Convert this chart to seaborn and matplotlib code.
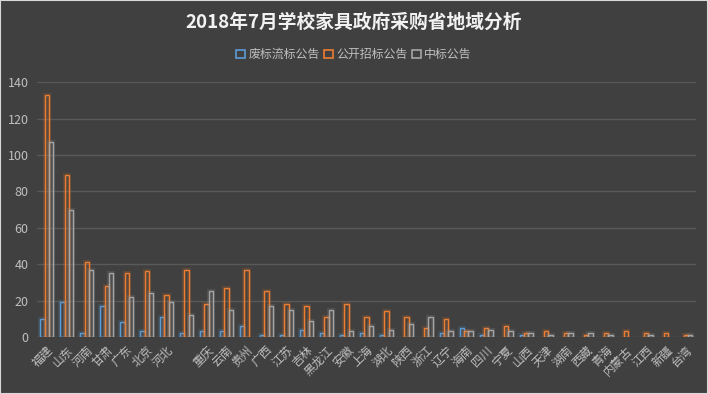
import numpy as np
import pandas as pd
import matplotlib
matplotlib.use("Agg")
import matplotlib.pyplot as plt
import matplotlib.patheffects as pe
from matplotlib.patches import Patch
import seaborn as sns

# 省份 (第8组在原图中没有标签)
provinces = ['福建', '山东', '河南', '甘肃', '广东', '北京', '河北', '', '重庆', '云南',
             '贵州', '广西', '江苏', '吉林', '黑龙江', '安徽', '上海', '湖北', '陕西', '浙江',
             '辽宁', '海南', '四川', '宁夏', '山西', '天津', '湖南', '西藏', '青海', '内蒙古',
             '江西', '新疆', '台湾']
series_names = ['废标流标公告', '公开招标公告', '中标公告']
feibiao = [10, 19, 2, 17, 8, 3, 11, 2, 3, 3, 6, 1, 1, 4, 2, 1, 2, 1, 0, 0,
           2, 5, 1, 0, 1, 0, 0, 0, 0, 0, 0, 0, 0]
gongkai = [133, 89, 41, 28, 35, 36, 23, 37, 18, 27, 37, 25, 18, 17, 11, 18, 11, 14, 11, 5,
           10, 3, 5, 6, 2, 3, 2, 1, 2, 3, 2, 2, 1]
zhongbiao = [107, 70, 37, 35, 22, 24, 19, 12, 25, 15, 0, 17, 15, 9, 15, 3, 6, 4, 7, 11,
             3, 3, 4, 3, 2, 1, 2, 2, 1, 0, 1, 0, 1]
colors = ['#5B9BD5', '#ED7D31', '#A5A5A5']

bg = '#404040'
txt = '#BFBFBF'

df = pd.DataFrame({'province': provinces,
                   series_names[0]: feibiao,
                   series_names[1]: gongkai,
                   series_names[2]: zhongbiao})
long_df = df.melt(id_vars='province', var_name='type', value_name='count')

sns.set_style('dark')
plt.rcParams['font.family'] = ['Noto Sans CJK SC', 'DejaVu Sans']

fig = plt.figure(figsize=(7.08, 3.94), dpi=100, facecolor=bg)
ax = fig.add_axes([0.052, 0.145, 0.931, 0.646])
ax.set_facecolor(bg)

sns.barplot(data=long_df, x='province', y='count', hue='type', order=provinces,
            hue_order=series_names, palette=colors, fill=False, width=0.65,
            linewidth=1.0, ax=ax, legend=False)

# 发光效果, 0值不画
for bar in ax.patches:
    if bar.get_height() == 0:
        bar.set_visible(False)
        continue
    c = bar.get_edgecolor()
    bar.set_path_effects([pe.Stroke(linewidth=3, foreground=c, alpha=0.16),
                          pe.Normal()])

ax.set_ylim(0, 140)
ax.set_xlim(-0.5, len(provinces) - 0.5)
ax.set_yticks(np.arange(0, 141, 20))
ax.grid(axis='y', color='#595959', linewidth=1)
ax.grid(axis='x', visible=False)
ax.set_axisbelow(True)
for s in ax.spines.values():
    s.set_visible(False)
ax.set_xlabel('')
ax.set_ylabel('')
ax.tick_params(axis='y', colors=txt, labelsize=9, length=0, pad=6)
ax.tick_params(axis='x', colors=txt, labelsize=8.5, length=0, pad=5)
ax.set_xticks(range(len(provinces)))
ax.set_xticklabels(provinces, rotation=45, ha='right', rotation_mode='anchor')

fig.text(0.5, 0.944, '2018年7月学校家具政府采购省地域分析', ha='center', va='center',
         fontsize=13.5, fontweight='bold', color='#F2F2F2')

handles = [Patch(facecolor='none', edgecolor=c, linewidth=1.2) for c in colors]
fig.legend(handles, series_names, loc='center', bbox_to_anchor=(0.5, 0.862), ncol=3,
           frameon=False, fontsize=8.6, labelcolor=txt, handlelength=0.7, handleheight=0.7,
           handletextpad=0.3, columnspacing=0.4)

fig.patches.append(plt.Rectangle((0, 0), 1, 1, transform=fig.transFigure, fill=False,
                                 edgecolor='#D9D9D9', linewidth=1.5))

fig.savefig('out.png', dpi=100, facecolor=bg)
